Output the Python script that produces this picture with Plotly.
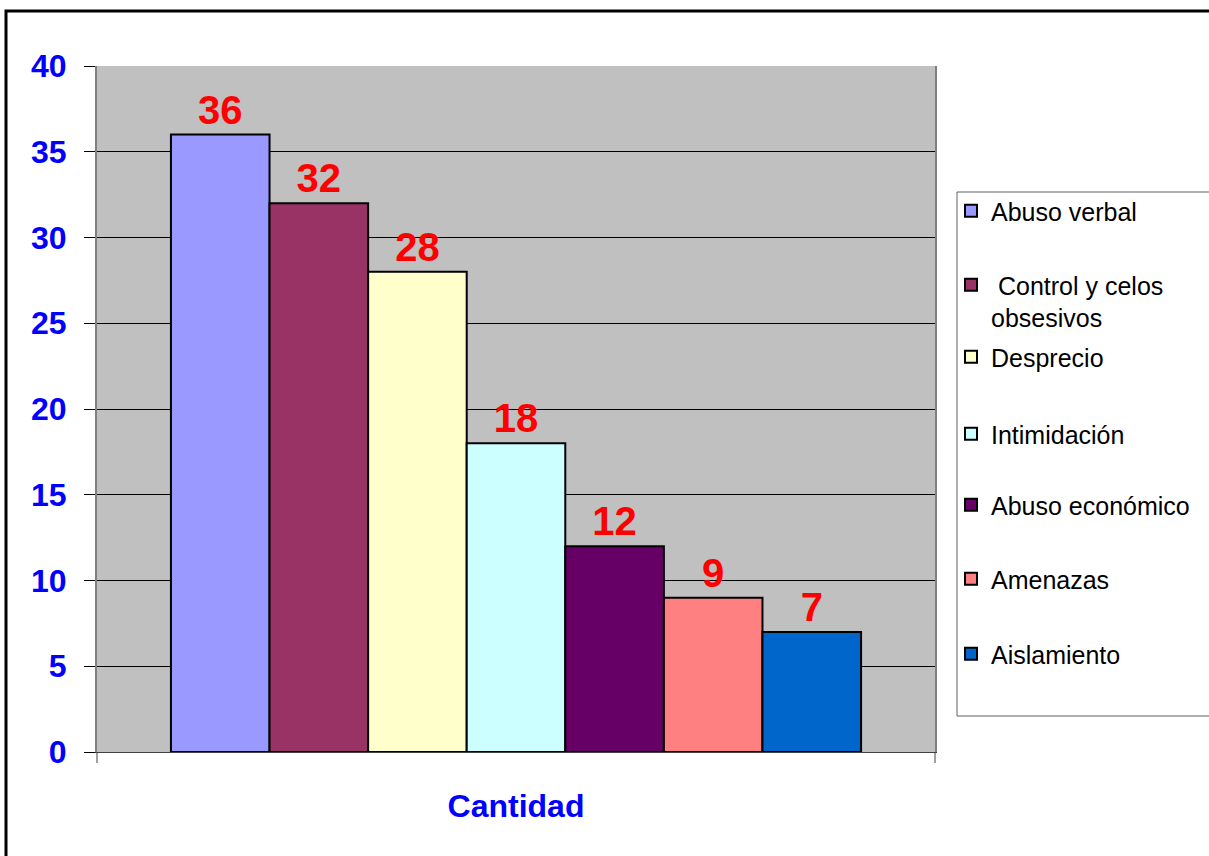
import plotly.graph_objects as go

categories = ["Cantidad"]
series_names = ["Abuso verbal", " Control y celos<br>obsesivos", "Desprecio", "Intimidación",
                "Abuso económico", "Amenazas", "Aislamiento"]
series_values = [36, 32, 28, 18, 12, 9, 7]
series_colors = ["#9999FF", "#993366", "#FFFFCC", "#CCFFFF", "#660066", "#FF8080", "#0066CC"]
y_ticks = [0, 5, 10, 15, 20, 25, 30, 35, 40]

# layout geometry (pixels)
W, H = 1209, 856
L, R, T, B = 97, 935, 66, 752
pw, ph = R - L, B - T
legend_line_centers = [212, 286, 358, 435, 506, 580, 655]


def px_x(p):
    return (p - L) / pw


def px_y(p):
    return (B - p) / ph


fig = go.Figure()
legend_ids = ["legend"] + [f"legend{i}" for i in range(2, len(series_names) + 1)]
for name, val, col, lid in zip(series_names, series_values, series_colors, legend_ids):
    fig.add_trace(go.Bar(
        x=categories, y=[val], name=name,
        marker=dict(color=col, line=dict(color="black", width=2)),
        text=[str(val)], textposition="outside",
        textfont=dict(family="Arial", size=40, color="#FF0000", weight="bold"),
        cliponaxis=False,
        legend=lid,
    ))

shapes = [
    # outer chart border (left & top visible)
    dict(type="rect", xref="paper", yref="paper",
         x0=px_x(6), x1=px_x(1225), y0=px_y(870), y1=px_y(11),
         line=dict(color="black", width=3), fillcolor="rgba(0,0,0,0)", layer="below"),
    # legend box
    dict(type="rect", xref="paper", yref="paper",
         x0=px_x(957), x1=px_x(1225), y0=px_y(716), y1=px_y(192),
         line=dict(color="#606060", width=1), fillcolor="white", layer="below"),
    # x-axis tick marks at category boundaries
    dict(type="line", xref="paper", yref="paper", x0=0, x1=0, y0=0, y1=px_y(763),
         line=dict(color="#404040", width=1)),
    dict(type="line", xref="paper", yref="paper", x0=1, x1=1, y0=0, y1=px_y(763),
         line=dict(color="#404040", width=1)),
]

legend_common = dict(
    xanchor="left", yanchor="top",
    borderwidth=0, bgcolor="rgba(0,0,0,0)",
    font=dict(family="Arial", size=25, color="black"),
    valign="top",
)
legends = {}
for lid, yc in zip(legend_ids, legend_line_centers):
    legends[lid] = dict(legend_common, x=px_x(951), y=px_y(yc - 24))

fig.update_layout(
    width=W, height=H,
    margin=dict(l=L, r=W - R, t=T, b=H - B, pad=0),
    paper_bgcolor="white",
    plot_bgcolor="#C0C0C0",
    barmode="group",
    bargap=1.5 / 8.5,
    bargroupgap=0,
    showlegend=True,
    shapes=shapes,
    xaxis=dict(
        type="category", range=[-0.5, 0.5],
        showgrid=False, zeroline=False,
        showline=True, linecolor="#404040", linewidth=1,
        ticks="", ticklabelstandoff=26,
        tickfont=dict(family="Arial", size=32, color="#0000FF", weight="bold"),
    ),
    yaxis=dict(
        range=[0, 40], tickvals=y_ticks,
        showgrid=True, gridcolor="black", gridwidth=1,
        zeroline=False,
        showline=True, linecolor="#808080", linewidth=2, mirror=True,
        ticks="outside", ticklen=11, tickcolor="black", tickwidth=1,
        ticklabelstandoff=11,
        tickfont=dict(family="Arial", size=32, color="#0000FF", weight="bold"),
    ),
    **legends,
)

fig.write_html("out.html", config={"displayModeBar": False},
               post_script="document.body.style.margin='0px';")
